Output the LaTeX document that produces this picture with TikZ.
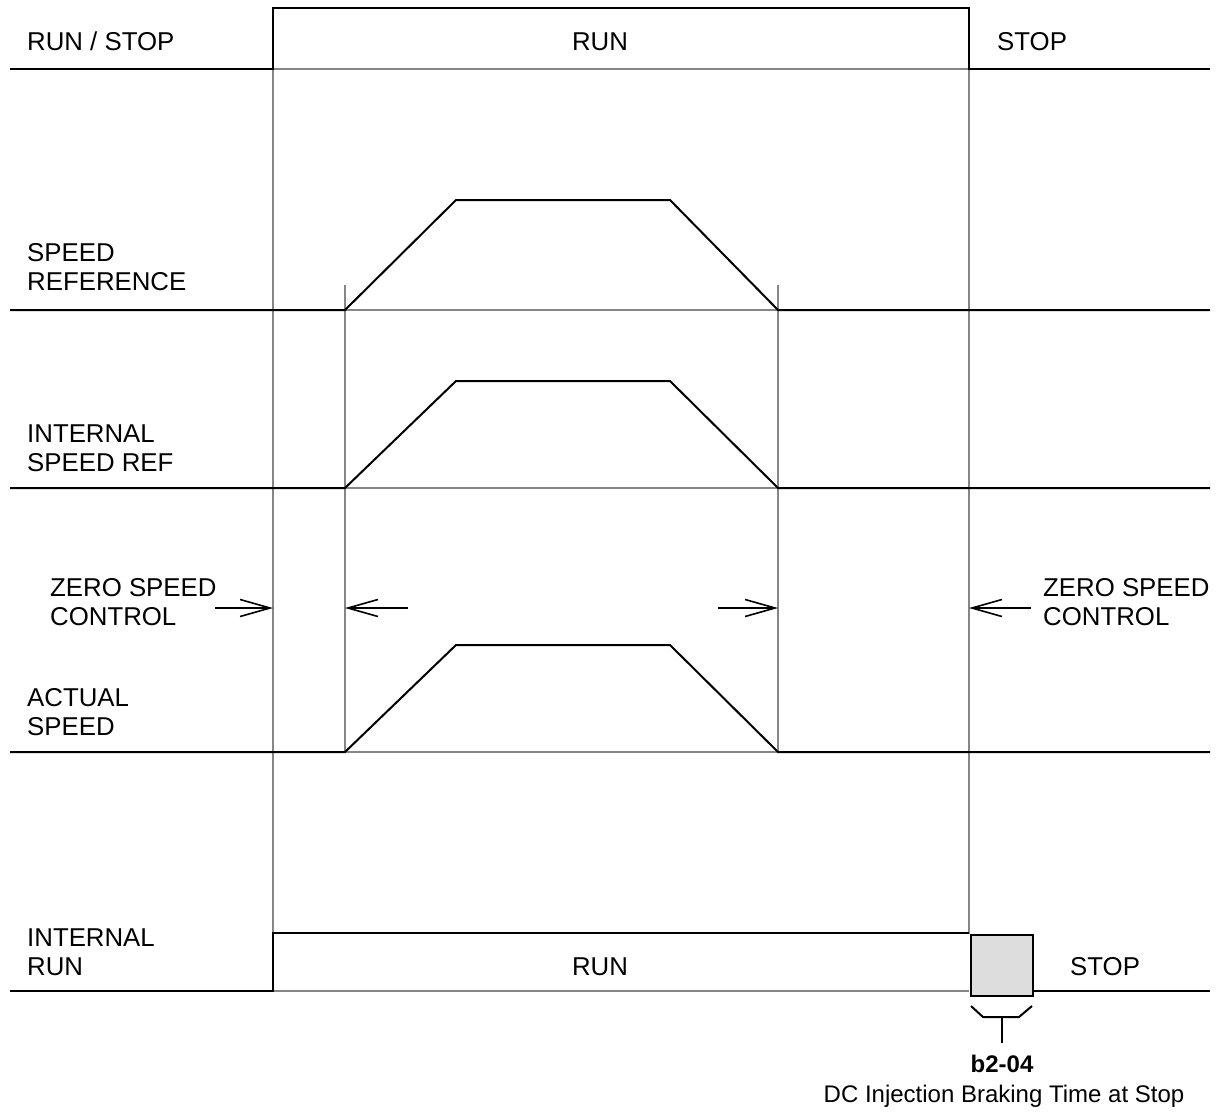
\documentclass[tikz,border=0pt]{standalone}
\usepackage{fontspec}
\setmainfont{Liberation Sans}
\usetikzlibrary{arrows.meta}

\begin{document}
\begin{tikzpicture}[
    x=1pt, y=-1pt,
    every node/.style={font=\fontsize{25.8}{29}\selectfont, inner sep=0pt},
    % Signal trace style
    signal/.style={draw=black, line width=2pt, line join=miter},
    % Thin timing guide style
    guide/.style={draw=gray!95, line width=1.3pt},
    % Zero speed marker style
    marker/.style={
        -{Straight Barb[length=30pt,width=17pt]}, line width=1.6pt
    },
    % Row label style
    row label/.style={anchor=base west, align=left},
    % Braking time box style
    brake box/.style={draw=black, line width=2pt, fill=gray!27}
]
\useasboundingbox (0,0) rectangle (1225,1112);

% --- Timing guides ---
\draw[guide] (273,69) -- (273,933);
\draw[guide] (969,69) -- (969,934);
\draw[guide] (345,285) -- (345,752);
\draw[guide] (778,285) -- (778,752);
\draw[guide] (273,69) -- (969,69);
\draw[guide] (345,310) -- (778,310);
\draw[guide] (345,488) -- (778,488);
\draw[guide] (345,752) -- (778,752);
\draw[guide] (273,991) -- (969,991);

% --- Signal traces ---
% Run / stop command
\draw[signal] (10,69) -- (273,69) -- (273,8) -- (969,8) -- (969,69) -- (1210,69);
% Speed reference
\draw[signal] (10,310) -- (345,310) -- (456,200) -- (670,200) -- (778,310) -- (1210,310);
% Internal speed reference
\draw[signal] (10,488) -- (345,488) -- (456,381) -- (670,381) -- (778,488) -- (1210,488);
% Actual speed
\draw[signal] (10,752) -- (345,752) -- (456,645) -- (670,645) -- (778,752) -- (1210,752);
% Internal run
\draw[signal] (10,991) -- (273,991) -- (273,933) -- (969,933);
\draw[signal] (1032,991) -- (1210,991);

% --- Braking time box ---
\node[brake box, minimum width=62pt, minimum height=61pt, anchor=north west]
    (brake) at (970,934) {};
\coordinate (brake left) at (971,1006);
\coordinate (brake right) at (1032,1006);
\coordinate (brake stem) at (1002,1043);
\draw[signal] (brake left) -- (983,1017) -- (1019,1017) -- (brake right);
\draw[signal] (1002,1017) -- (brake stem);

% --- Zero speed markers ---
\coordinate (zs start) at (273,608);
\coordinate (zs accel) at (345,608);
\coordinate (zs decel) at (778,608);
\coordinate (zs stop) at (969,608);
\draw[marker] (215,608) -- (zs start);
\draw[marker] (408,608) -- (zs accel);
\draw[marker] (718,608) -- (zs decel);
\draw[marker] (1031,608) -- (zs stop);

% --- Labels ---
\node[row label] (runstop) at (27,50) {RUN / STOP};
\node[anchor=base] (run top) at (600,50) {RUN};
\node[anchor=base west] (stop top) at (997,50) {STOP};
\node[row label] (speedref) at (27,290) {SPEED\\REFERENCE};
\node[row label] (intref) at (27,471) {INTERNAL\\SPEED REF};
\node[row label] (zs left) at (50,625) {ZERO SPEED\\CONTROL};
\node[row label] (zs right) at (1043,625) {ZERO SPEED\\CONTROL};
\node[row label] (actual) at (27,735) {ACTUAL\\SPEED};
\node[row label] (intrun) at (27,975) {INTERNAL\\RUN};
\node[anchor=base] (run bottom) at (600,975) {RUN};
\node[anchor=base west] (stop bottom) at (1070,975) {STOP};
\node[anchor=base, font=\fontsize{24}{29}\selectfont\bfseries] (b204) at (1002,1072) {b2-04};
\node[anchor=base, font=\fontsize{24}{29}\selectfont] (dcbrake) at (1004,1102) {DC Injection Braking Time at Stop};

\end{tikzpicture}
\end{document}
